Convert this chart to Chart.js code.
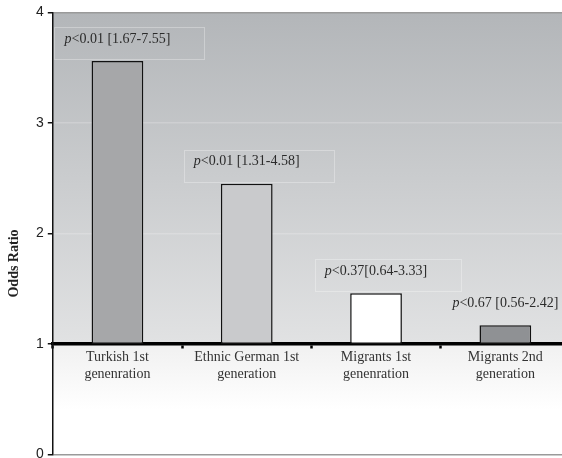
<!DOCTYPE html>
<html>
<head>
<meta charset="utf-8">
<script src="https://cdn.jsdelivr.net/npm/chart.js@4/dist/chart.umd.min.js"></script>
<style>
  html, body { margin: 0; padding: 0; background: #fff; overflow: hidden; }
  #wrap { width: 570px; height: 467px; position: relative; }
</style>
</head>
<body>
<div id="wrap"><canvas id="c"></canvas></div>
<script>
// odds ratios by migrant group, bars float up from OR = 1
var categories = [
  ['Turkish 1st', 'genenration'],
  ['Ethnic German 1st', 'generation'],
  ['Migrants 1st', 'genenration'],
  ['Migrants 2nd', 'generation']
];
var baseline = 1;
var oddsRatios = [3.56, 2.45, 1.46, 1.17];
var pTexts = ['<0.01 [1.67-7.55]', '<0.01 [1.31-4.58]', '<0.37[0.64-3.33]', '<0.67 [0.56-2.42]'];
var yTicks = [0, 1, 2, 3, 4];
var yTitle = 'Odds Ratio';

var barColors = ['#a6a7a9', '#c9cacc', '#ffffff', '#8f9194'];
var serif = '"Liberation Serif", "Times New Roman", serif';

var bgPlugin = {
  id: 'bg',
  beforeDraw: function (chart) {
    var a = chart.chartArea, ctx = chart.ctx;
    var y1 = chart.scales.y.getPixelForValue(baseline);
    var f = (y1 - a.top) / (a.bottom - a.top);
    var g = ctx.createLinearGradient(0, a.top, 0, a.bottom);
    g.addColorStop(0, '#b3b6b9');
    g.addColorStop(f, '#e1e2e3');
    g.addColorStop(Math.min(1, f + 0.005), '#f1f1f1');
    g.addColorStop(Math.min(1, f + 0.15), '#ffffff');
    g.addColorStop(1, '#ffffff');
    ctx.save();
    ctx.fillStyle = g;
    ctx.fillRect(a.left, a.top, a.right - a.left, a.bottom - a.top);
    ctx.restore();
  }
};

// y title sits below the middle of the axis in the original, so draw it by hand
var titlePlugin = {
  id: 'ytitle',
  afterDraw: function (chart) {
    var a = chart.chartArea, ctx = chart.ctx;
    ctx.save();
    ctx.translate(14, (a.top + a.bottom) / 2 + 30);
    ctx.rotate(-Math.PI / 2);
    ctx.font = 'bold 14px ' + serif;
    ctx.fillStyle = '#222';
    ctx.textAlign = 'center';
    ctx.textBaseline = 'middle';
    ctx.fillText(yTitle, 0, 0);
    ctx.restore();
  }
};

var notePlugin = {
  id: 'notes',
  afterDatasetsDraw: function (chart) {
    var ctx = chart.ctx, meta = chart.getDatasetMeta(0);
    ctx.save();
    ctx.textBaseline = 'middle';
    meta.data.forEach(function (bar, i) {
      var rest = pTexts[i];
      ctx.font = 'italic 14px ' + serif;
      var wp = ctx.measureText('p').width;
      ctx.font = '14px ' + serif;
      var wr = ctx.measureText(rest).width;
      var w = wp + wr;
      var x0 = bar.x - w / 2;
      var ty = bar.y - 22;
      if (i < 3) {
        ctx.strokeStyle = 'rgba(255,255,255,0.3)';
        ctx.lineWidth = 1;
        ctx.strokeRect(Math.round(x0 - 10) + 0.5, Math.round(ty - 12) + 0.5, Math.round(w + 44), 32);
      }
      ctx.fillStyle = '#2b2b2b';
      ctx.font = 'italic 14px ' + serif;
      ctx.fillText('p', x0, ty);
      ctx.font = '14px ' + serif;
      ctx.fillText(rest, x0 + wp, ty);
    });
    ctx.restore();
  }
};

new Chart(document.getElementById('c'), {
  type: 'bar',
  data: {
    labels: categories,
    datasets: [{
      data: oddsRatios.map(function (v) { return [baseline, v]; }),
      backgroundColor: barColors,
      borderColor: '#111',
      borderWidth: 1.5,
      borderSkipped: false,
      barPercentage: 0.4,
      categoryPercentage: 1
    }]
  },
  options: {
    responsive: true,
    maintainAspectRatio: false,
    animation: false,
    layout: { padding: { left: 32, top: 4, right: 0, bottom: 0 } },
    plugins: { legend: { display: false }, tooltip: { enabled: false } },
    scales: {
      x: {
        position: { y: baseline },
        z: 1,
        border: { display: true, color: '#000', width: 3.5 },
        grid: { offset: true, drawOnChartArea: false, drawTicks: true, tickLength: 3, tickWidth: 2.5, tickColor: '#000' },
        ticks: { color: '#333', font: { family: serif, size: 14, lineHeight: 1.2 }, padding: 2, maxRotation: 0, autoSkip: false }
      },
      y: {
        min: yTicks[0],
        max: yTicks[yTicks.length - 1],
        afterBuildTicks: function (s) { s.ticks = yTicks.map(function (v) { return { value: v }; }); },
        border: { display: true, color: '#111', width: 1.5 },
        grid: {
          color: function (c) {
            var v = c.tick && c.tick.value;
            if (v === yTicks[0] || v === yTicks[yTicks.length - 1]) return '#9a9a9a';
            if (v === baseline) return 'rgba(0,0,0,0)';
            return 'rgba(255,255,255,0.2)';
          },
          lineWidth: 1.5,
          tickColor: '#111',
          tickLength: 5
        },
        ticks: { color: '#222', font: { family: '"Liberation Sans", Arial, sans-serif', size: 14 }, padding: 4 }
      }
    }
  },
  plugins: [bgPlugin, notePlugin, titlePlugin]
});
</script>
</body>
</html>
